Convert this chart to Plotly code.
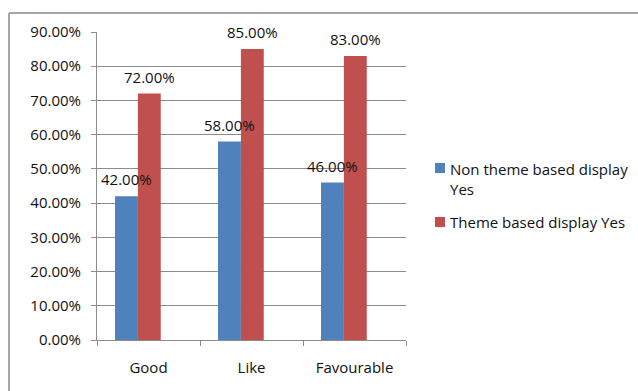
import plotly.graph_objects as go

# Survey response share per attribute
categories = ["Good", "Like", "Favourable"]
non_theme_yes = [0.42, 0.58, 0.46]
theme_yes = [0.72, 0.85, 0.83]
series_names = ["Non theme based display<br>Yes", "Theme based display Yes"]
y_ticks = [0.0, 0.1, 0.2, 0.3, 0.4, 0.5, 0.6, 0.7, 0.8, 0.9]

BLUE = "#4F81BD"
RED = "#C0504D"
GRID = "#8C8C8C"
TXT = "#111111"
FAM = "Open Sans"
FS = 15

W, H = 638, 391
x0, x1 = 97, 406          # plot area, pixels
y_top, y_bot = 32, 340
cat_px = (x1 - x0) / len(categories)

# bar geometry in category units (the pair sits a little left of centre)
BAR_W = 0.222
OFFSETS = (-0.325, -0.103)

fig = go.Figure()
for vals, name, color, off in ((non_theme_yes, series_names[0], BLUE, OFFSETS[0]),
                               (theme_yes, series_names[1], RED, OFFSETS[1])):
    fig.add_trace(go.Bar(x=categories, y=vals, name=name, width=BAR_W, offset=off,
                         marker=dict(color=color, line=dict(width=0)),
                         showlegend=False))
    # value labels above each bar
    shift = (off + BAR_W / 2) * cat_px
    for c, v in zip(categories, vals):
        fig.add_annotation(x=c, y=v, text=f"{v:.2%}", showarrow=False,
                           xshift=shift, yshift=17, yanchor="middle",
                           font=dict(family=FAM, size=FS, color=TXT))

# legend: colour swatches with series names
legend_rows = ((BLUE, series_names[0], 168, 179.5), (RED, series_names[1], 222, 222))
for color, name, sy, ty in legend_rows:
    fig.add_shape(type="rect", xref="paper", yref="paper",
                  x0=435 / W, x1=445 / W, y0=1 - (sy + 5) / H, y1=1 - (sy - 5) / H,
                  fillcolor=color, line=dict(width=0))
    fig.add_annotation(xref="paper", yref="paper", x=448 / W, y=1 - ty / H,
                       text=name, showarrow=False, xanchor="left", yanchor="middle",
                       align="left", font=dict(family=FAM, size=FS, color=TXT))

# chart frame: top and left edges
fig.add_shape(type="line", xref="paper", yref="paper",
              x0=9 / W, x1=1.0, y0=1 - 13 / H, y1=1 - 13 / H,
              line=dict(color="#A6A6A6", width=2))
fig.add_shape(type="line", xref="paper", yref="paper",
              x0=9 / W, x1=9 / W, y0=0, y1=1 - 13 / H,
              line=dict(color="#A6A6A6", width=2))

fig.update_layout(
    width=W, height=H,
    margin=dict(l=0, r=0, t=0, b=0, autoexpand=False),
    paper_bgcolor="white", plot_bgcolor="white",
    barmode="overlay",
    font=dict(family=FAM, size=FS, color=TXT),
    showlegend=False,
    xaxis=dict(domain=[x0 / W, x1 / W], showline=True, linecolor=GRID,
               ticks="outside", ticklen=5, tickcolor=GRID,
               tickson="boundaries", showgrid=False, automargin=False,
               ticklabelstandoff=14,
               tickfont=dict(family=FAM, size=FS, color=TXT)),
    yaxis=dict(domain=[1 - y_bot / H, 1 - y_top / H], range=[0, 0.9],
               tickvals=y_ticks, tickformat=".2%", automargin=False,
               showline=True, linecolor=GRID, showgrid=True, gridcolor=GRID,
               ticks="outside", ticklen=5, tickcolor=GRID, zeroline=False,
               ticklabelstandoff=7,
               tickfont=dict(family=FAM, size=FS, color=TXT)),
)

fig.write_html("out.html")
